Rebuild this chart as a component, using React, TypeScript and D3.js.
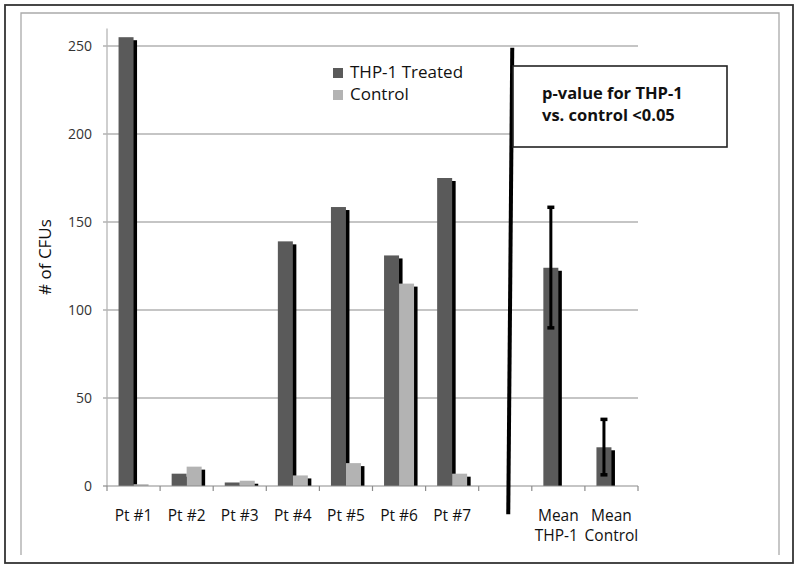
import React from "react";
import * as d3 from "d3";

const categories = ["Pt #1", "Pt #2", "Pt #3", "Pt #4", "Pt #5", "Pt #6", "Pt #7", "", "Mean THP-1", "Mean Control"];
const treated = [255, 7, 2, 139, 158.5, 131, 175, 0, 124, 22];
const control = [1, 11, 3, 6, 13, 115, 7, 0, 0, 0];
const errLow = [null, null, null, null, null, null, null, null, 90, 6.5];
const errHigh = [null, null, null, null, null, null, null, null, 158.5, 38];
const yTicks = [0, 50, 100, 150, 200, 250];
const seriesNames = ["THP-1 Treated", "Control"];
const noteLines = ["p-value for THP-1", "vs. control <0.05"];

const W = 800;
const H = 569;
const FONT = "'Open Sans', Lato, sans-serif";
const C_T = "#5a5a5a";
const C_C = "#b3b3b3";

export default function App() {
  const x = d3.scaleBand<string>().domain(categories.map((c, i) => String(i))).range([107, 638]).paddingInner(0).paddingOuter(0);
  const y = d3.scaleLinear().domain([0, 260]).range([486, 28.4]);
  const bw = 15;
  const center = (i: number) => (x(String(i)) as number) + x.bandwidth() / 2;
  const y0 = y(0);

  const bars = (vals: number[], offset: number, color: string, key: string) => (
    <g key={key}>
      {vals.map((v, i) =>
        v > 0 ? (
          <rect key={"s" + i} x={center(i) + offset + 3.5} y={y(v) + 3} width={bw} height={Math.max(0, y0 - y(v) - 3)} fill="#000" />
        ) : null
      )}
      {vals.map((v, i) =>
        v > 0 ? <rect key={"b" + i} x={center(i) + offset} y={y(v)} width={bw} height={y0 - y(v)} fill={color} /> : null
      )}
    </g>
  );

  const dividerX = center(7) + 5;

  return (
    <div style={{ position: "fixed", left: 0, top: 0, width: W, height: H, background: "#fff" }}>
      <svg width={W} height={H} style={{ display: "block" }} fontFamily={FONT}>
        <rect x={0} y={0} width={W} height={H} fill="#fff" />
        {/* frames */}
        <rect x={5} y={5} width={788} height={558} fill="none" stroke="#333" strokeWidth={1.8} />
        <path d="M21,555 V13 H779 V555" fill="none" stroke="#aaa" strokeWidth={1.3} />

        {/* gridlines */}
        {yTicks.filter((t) => t > 0).map((t) => (
          <line key={t} x1={103} x2={638} y1={y(t)} y2={y(t)} stroke="#8c8c8c" strokeWidth={1.2} />
        ))}
        {/* y axis */}
        <line x1={107} x2={107} y1={y(260)} y2={y0} stroke="#b5b5b5" strokeWidth={1.3} />
        <line x1={103} x2={107} y1={y0} y2={y0} stroke="#8c8c8c" strokeWidth={1.2} />
        {yTicks.map((t) => (
          <text key={t} x={92} y={y(t) + 5} textAnchor="end" fontSize={14} fill="#333">
            {t}
          </text>
        ))}
        <text transform={`translate(51,257) rotate(-90)`} textAnchor="middle" fontSize={17} fill="#111">
          # of CFUs
        </text>

        {/* bars */}
        {bars(treated, -bw, C_T, "t")}
        {bars(control, 0, C_C, "c")}

        {/* x axis */}
        <line x1={107} x2={638} y1={y0} y2={y0} stroke="#8c8c8c" strokeWidth={1.2} />
        {categories.map((c, i) => (
          <line key={"tk" + i} x1={x(String(i)) as number} x2={x(String(i)) as number} y1={y0} y2={y0 + 5} stroke="#8c8c8c" strokeWidth={1.2} />
        ))}
        <line x1={638} x2={638} y1={y0} y2={y0 + 5} stroke="#8c8c8c" strokeWidth={1.2} />
        {categories.map((c, i) => {
          const parts = c.startsWith("Mean") ? ["Mean", c.slice(5)] : [c];
          return parts.map((p, j) => (
            <text key={"xl" + i + "-" + j} x={center(i) + (j === 1 ? (i === 8 ? -2 : 0) : 0)} y={521 + j * 20} textAnchor="middle" fontSize={15.5} fill="#111">
              {p}
            </text>
          ));
        })}

        {/* error bars */}
        {treated.map((v, i) =>
          errLow[i] != null ? (
            <g key={"e" + i}>
              <line x1={center(i) - bw / 2} x2={center(i) - bw / 2} y1={y(errHigh[i] as number)} y2={y(errLow[i] as number)} stroke="#000" strokeWidth={3} />
              <rect x={center(i) - bw / 2 - 3.5} y={y(errHigh[i] as number) - 1.5} width={7} height={3.5} fill="#000" />
              <rect x={center(i) - bw / 2 - 3.5} y={y(errLow[i] as number) - 1.5} width={7} height={3.5} fill="#000" />
            </g>
          ) : null
        )}

        {/* divider */}
        <line x1={dividerX + 2} y1={y(249)} x2={dividerX - 2} y2={y(-16)} stroke="#000" strokeWidth={4} />

        {/* note box */}
        <rect x={513} y={66} width={214} height={81} fill="#fff" stroke="#222" strokeWidth={1.6} />
        {noteLines.map((l, i) => (
          <text key={l} x={542} y={99 + i * 22} fontSize={16.5} fontWeight="bold" fill="#111">
            {l}
          </text>
        ))}

        {/* legend */}
        {seriesNames.map((s, i) => (
          <g key={s}>
            <rect x={333} y={68 + i * 22} width={10} height={10} fill={i === 0 ? C_T : C_C} />
            <text x={350} y={78 + i * 22} fontSize={17} fill="#111">
              {s}
            </text>
          </g>
        ))}
      </svg>
    </div>
  );
}
